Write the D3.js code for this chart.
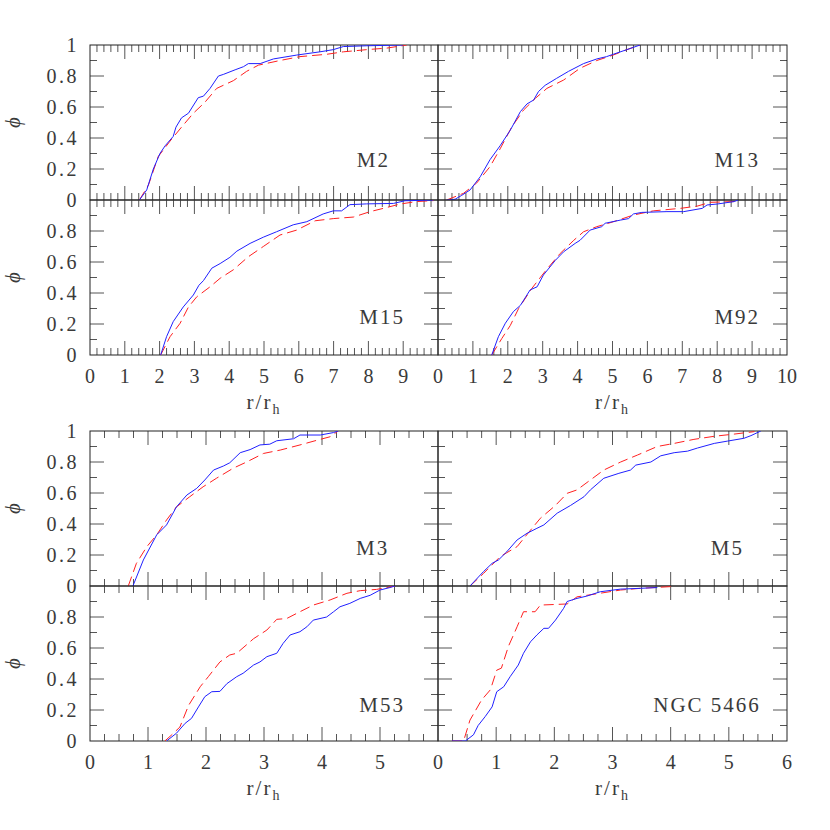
<!DOCTYPE html>
<html lang="en">
<head>
<meta charset="UTF-8"/>
<title>Cumulative radial distributions</title>
<script src="https://cdn.jsdelivr.net/npm/d3@7"></script>
<style>
  body { margin: 0; background: #fff; }
  text { font-family: "Liberation Serif", "DejaVu Serif", serif; fill: #3a3a3a; }
</style>
</head>
<body>
<script>
// cumulative fraction phi vs r/r_h, blue = solid, red = dashed
var m2Blue = [[1.42,0],[1.63,0.065],[1.82,0.2],[2.01,0.3],[2.16,0.35],[2.39,0.41],[2.47,0.47],[2.63,0.53],[2.83,0.56],[3.11,0.66],[3.26,0.67],[3.45,0.72],[3.69,0.8],[3.83,0.81],[4.17,0.84],[4.41,0.86],[4.55,0.88],[4.89,0.88],[5.27,0.91],[5.94,0.935],[6.61,0.956],[6.99,0.97],[7.28,0.99],[7.95,0.995],[9.0,1]];
var m2Red = [[1.42,0],[1.68,0.097],[1.96,0.28],[2.3,0.38],[2.63,0.47],[2.97,0.56],[3.3,0.63],[3.64,0.72],[4.12,0.77],[4.5,0.83],[4.84,0.87],[5.46,0.9],[6.03,0.925],[6.8,0.94],[7.28,0.956],[7.95,0.97],[8.53,0.98],[9.1,1]];
var m13Blue = [[0.25,0],[0.49,0.005],[0.68,0.03],[0.92,0.065],[1.21,0.15],[1.49,0.26],[1.78,0.35],[2.07,0.45],[2.36,0.57],[2.55,0.62],[2.74,0.645],[2.88,0.7],[3.07,0.74],[3.4,0.785],[3.74,0.83],[4.17,0.88],[4.55,0.91],[4.83,0.925],[5.02,0.94],[5.41,0.97],[5.79,1]];
var m13Red = [[0.25,0],[0.73,0.043],[1.11,0.11],[1.49,0.215],[1.78,0.33],[2.11,0.47],[2.45,0.58],[2.79,0.656],[3.12,0.72],[3.6,0.774],[4.07,0.85],[4.55,0.9],[5.02,0.935],[5.41,0.97],[5.79,1]];
var m15Blue = [[2.03,0],[2.2,0.118],[2.39,0.215],[2.68,0.31],[2.97,0.387],[3.13,0.45],[3.26,0.48],[3.5,0.56],[3.74,0.59],[4.02,0.63],[4.22,0.67],[4.6,0.72],[4.98,0.76],[5.36,0.795],[5.84,0.84],[6.23,0.86],[6.7,0.91],[6.99,0.93],[7.23,0.93],[7.47,0.97],[7.95,0.975],[8.72,0.978],[9.05,0.995],[9.87,1]];
var m15Red = [[2.03,0],[2.3,0.118],[2.59,0.205],[2.83,0.31],[3.07,0.376],[3.45,0.44],[3.74,0.495],[4.12,0.55],[4.55,0.634],[4.98,0.7],[5.46,0.774],[5.94,0.806],[6.47,0.866],[6.99,0.88],[7.57,0.89],[8.05,0.925],[8.43,0.946],[8.91,0.974],[9.39,0.99],[9.87,0.996]];
var m92Blue = [[1.54,0],[1.73,0.118],[1.93,0.205],[2.16,0.28],[2.36,0.32],[2.64,0.42],[2.84,0.44],[3.02,0.516],[3.36,0.61],[3.6,0.666],[3.93,0.72],[4.07,0.74],[4.36,0.806],[4.69,0.828],[4.79,0.85],[5.22,0.87],[5.46,0.88],[5.6,0.91],[5.84,0.92],[6.56,0.925],[7.04,0.925],[7.57,0.946],[7.71,0.968],[8.0,0.974],[8.49,0.99],[8.6,1]];
var m92Red = [[1.54,0],[1.83,0.107],[2.07,0.19],[2.31,0.3],[2.69,0.43],[3.07,0.54],[3.5,0.655],[3.89,0.74],[4.17,0.795],[4.55,0.828],[5.03,0.86],[5.6,0.903],[6.17,0.93],[6.94,0.946],[7.42,0.96],[7.8,0.985],[8.49,0.99],[8.59,1]];
var m3Blue = [[0.74,0],[0.92,0.168],[1.15,0.33],[1.32,0.394],[1.49,0.51],[1.67,0.587],[1.84,0.63],[1.98,0.684],[2.13,0.748],[2.3,0.774],[2.41,0.795],[2.59,0.86],[2.76,0.88],[2.93,0.91],[3.1,0.915],[3.22,0.937],[3.51,0.95],[3.62,0.974],[3.97,0.974],[4.2,0.99],[4.28,1]];
var m3Red = [[0.66,0],[0.8,0.146],[0.98,0.254],[1.15,0.33],[1.32,0.426],[1.49,0.51],[1.72,0.576],[1.95,0.64],[2.18,0.695],[2.47,0.76],[2.7,0.8],[2.99,0.855],[3.28,0.877],[3.62,0.91],[3.91,0.94],[4.14,0.963],[4.28,1]];
var m5Blue = [[0.55,0],[0.78,0.092],[0.93,0.146],[1.04,0.168],[1.18,0.22],[1.36,0.297],[1.53,0.34],[1.7,0.372],[1.82,0.394],[2.05,0.47],[2.28,0.52],[2.51,0.576],[2.62,0.62],[2.85,0.695],[3.11,0.727],[3.31,0.748],[3.4,0.78],[3.66,0.8],[3.83,0.84],[4.06,0.86],[4.29,0.87],[4.46,0.89],[4.75,0.92],[4.98,0.935],[5.26,0.953],[5.38,0.97],[5.55,1]];
var m5Red = [[0.55,0],[0.78,0.08],[1.07,0.19],[1.36,0.254],[1.59,0.36],[1.76,0.437],[2.02,0.52],[2.22,0.598],[2.39,0.62],[2.62,0.684],[2.85,0.748],[3.14,0.8],[3.43,0.845],[3.77,0.9],[4.06,0.92],[4.4,0.946],[4.75,0.966],[5.09,0.98],[5.44,0.996]];
var m53Blue = [[1.32,0],[1.49,0.05],[1.64,0.114],[1.75,0.146],[1.87,0.22],[1.98,0.286],[2.1,0.318],[2.24,0.32],[2.36,0.37],[2.53,0.415],[2.64,0.437],[2.82,0.49],[2.93,0.51],[3.05,0.544],[3.22,0.566],[3.33,0.63],[3.45,0.684],[3.62,0.705],[3.74,0.737],[3.85,0.78],[4.08,0.8],[4.2,0.834],[4.31,0.866],[4.48,0.888],[4.66,0.92],[4.83,0.94],[5.0,0.974],[5.17,0.99],[5.26,1]];
var m53Red = [[1.29,0],[1.41,0.04],[1.55,0.09],[1.7,0.23],[1.9,0.35],[2.04,0.415],[2.24,0.51],[2.41,0.555],[2.53,0.566],[2.82,0.66],[3.05,0.716],[3.22,0.785],[3.39,0.79],[3.62,0.834],[3.85,0.877],[4.14,0.91],[4.43,0.953],[4.66,0.97],[4.94,0.978],[5.26,1]];
var n5466Blue = [[0.24,0],[0.47,0],[0.61,0.04],[0.69,0.1],[0.81,0.157],[0.93,0.22],[1.01,0.318],[1.13,0.35],[1.24,0.415],[1.38,0.49],[1.47,0.566],[1.59,0.64],[1.7,0.684],[1.82,0.727],[1.9,0.727],[2.02,0.78],[2.16,0.856],[2.22,0.9],[2.39,0.92],[2.56,0.935],[2.79,0.963],[3.14,0.98],[3.48,0.985],[3.77,0.99]];
var n5466Red = [[0.24,0],[0.44,0],[0.55,0.135],[0.75,0.265],[0.9,0.33],[1.01,0.457],[1.09,0.47],[1.21,0.61],[1.36,0.737],[1.47,0.834],[1.67,0.834],[1.76,0.877],[2.22,0.884],[2.39,0.93],[2.73,0.95],[3.14,0.974],[3.48,0.985],[4.0,0.996]];

var topXTicks = [0,1,2,3,4,5,6,7,8,9,10];
var botXTicks = [0,1,2,3,4,5,6];
var phiTicks = [0,0.2,0.4,0.6,0.8,1];

var W = 830, H = 830;
var colX = [[90, 438], [438, 787]];
var svg = d3.select("body").append("svg").attr("width", W).attr("height", H);

var panels = [
  { name: "M2",       blue: m2Blue,    red: m2Red,    col: 0, y0: 45,  y1: 200, xmax: 10, minor: 0.2,  lab: [8.62, 0.21], top: true,  xlab: null },
  { name: "M13",      blue: m13Blue,   red: m13Red,   col: 1, y0: 45,  y1: 200, xmax: 10, minor: 0.2,  lab: [9.23, 0.21], top: true,  xlab: null },
  { name: "M15",      blue: m15Blue,   red: m15Red,   col: 0, y0: 200, y1: 355, xmax: 10, minor: 0.2,  lab: [9.05, 0.2],  top: false, xlab: topXTicks.slice(0, 10) },
  { name: "M92",      blue: m92Blue,   red: m92Red,   col: 1, y0: 200, y1: 355, xmax: 10, minor: 0.2,  lab: [9.23, 0.2],  top: false, xlab: topXTicks },
  { name: "M3",       blue: m3Blue,    red: m3Red,    col: 0, y0: 431, y1: 586, xmax: 6,  minor: 0.25, lab: [5.16, 0.2],  top: true,  xlab: null },
  { name: "M5",       blue: m5Blue,    red: m5Red,    col: 1, y0: 431, y1: 586, xmax: 6,  minor: 0.25, lab: [5.26, 0.2],  top: true,  xlab: null },
  { name: "M53",      blue: m53Blue,   red: m53Red,   col: 0, y0: 586, y1: 741, xmax: 6,  minor: 0.25, lab: [5.43, 0.19], top: false, xlab: botXTicks.slice(0, 6) },
  { name: "NGC 5466", blue: n5466Blue, red: n5466Red, col: 1, y0: 586, y1: 741, xmax: 6,  minor: 0.25, lab: [5.55, 0.19], top: false, xlab: botXTicks }
];

panels.forEach(function(p, i) {
  var x = d3.scaleLinear().domain([0, p.xmax]).range(colX[p.col]);
  var y = d3.scaleLinear().domain([0, 1]).range([p.y1, p.y0]);
  var g = svg.append("g");

  g.append("clipPath").attr("id", "clip" + i)
    .append("rect")
    .attr("x", x(0)).attr("y", y(1))
    .attr("width", x(p.xmax) - x(0)).attr("height", y(0) - y(1));

  // x ticks, inward on top and bottom edges
  var nx = Math.round(p.xmax / p.minor);
  for (var k = 1; k < nx; k++) {
    var v = k * p.minor;
    var major = Math.abs(v - Math.round(v)) < 1e-6;
    var len = major ? 14 : 7;
    [[y(0), -len], [y(1), len]].forEach(function(e) {
      g.append("line")
        .attr("x1", x(v)).attr("x2", x(v))
        .attr("y1", e[0]).attr("y2", e[0] + e[1])
        .attr("stroke", "#555").attr("stroke-width", 1);
    });
  }
  // y ticks, inward on left and right edges
  for (var j = 1; j < 10; j++) {
    var yv = j / 10;
    var ylen = (j % 2 === 0) ? 14 : 7;
    [[x(0), ylen], [x(p.xmax), -ylen]].forEach(function(e) {
      g.append("line")
        .attr("x1", e[0]).attr("x2", e[0] + e[1])
        .attr("y1", y(yv)).attr("y2", y(yv))
        .attr("stroke", "#555").attr("stroke-width", 1);
    });
  }

  g.append("rect")
    .attr("x", x(0)).attr("y", y(1))
    .attr("width", x(p.xmax) - x(0)).attr("height", y(0) - y(1))
    .attr("fill", "none").attr("stroke", "#222").attr("stroke-width", 1);

  var line = d3.line()
    .x(function(d) { return x(d[0]); })
    .y(function(d) { return y(d[1]); });

  g.append("path").datum(p.red)
    .attr("clip-path", "url(#clip" + i + ")")
    .attr("d", line)
    .attr("fill", "none").attr("stroke", "#ff2020")
    .attr("stroke-width", 1).attr("stroke-dasharray", "10,5");

  g.append("path").datum(p.blue)
    .attr("clip-path", "url(#clip" + i + ")")
    .attr("d", line)
    .attr("fill", "none").attr("stroke", "#2020ff")
    .attr("stroke-width", 1);

  g.append("text")
    .attr("x", x(p.lab[0])).attr("y", y(p.lab[1]))
    .attr("text-anchor", "end")
    .attr("font-size", 21).attr("letter-spacing", 2)
    .text(p.name);

  // y tick labels only on the left column
  if (p.col === 0) {
    var yl = p.top ? phiTicks : phiTicks.slice(0, 5);
    g.selectAll(".ylab").data(yl).enter().append("text")
      .attr("x", 79).attr("y", function(d) { return y(d); })
      .attr("dy", "0.35em")
      .attr("text-anchor", "end")
      .attr("font-size", 20).attr("letter-spacing", 2.5)
      .text(function(d) { return d; });

    svg.append("text")
      .attr("transform", "translate(20," + (p.y0 + p.y1) / 2 + ") rotate(-90)")
      .attr("text-anchor", "middle")
      .attr("font-size", 21).attr("font-style", "italic")
      .text("\u03d5");
  }

  if (p.xlab) {
    g.selectAll(".xlab").data(p.xlab).enter().append("text")
      .attr("x", function(d) { return x(d); }).attr("y", p.y1 + 28)
      .attr("text-anchor", "middle")
      .attr("font-size", 20)
      .text(function(d) { return d; });

    var t = svg.append("text")
      .attr("x", (colX[p.col][0] + colX[p.col][1]) / 2)
      .attr("y", p.y1 + 54)
      .attr("text-anchor", "middle")
      .attr("font-size", 21).attr("letter-spacing", 2);
    t.append("tspan").text("r/r");
    t.append("tspan").attr("font-size", 14).attr("dy", 5).text("h");
  }
});
</script>
</body>
</html>
